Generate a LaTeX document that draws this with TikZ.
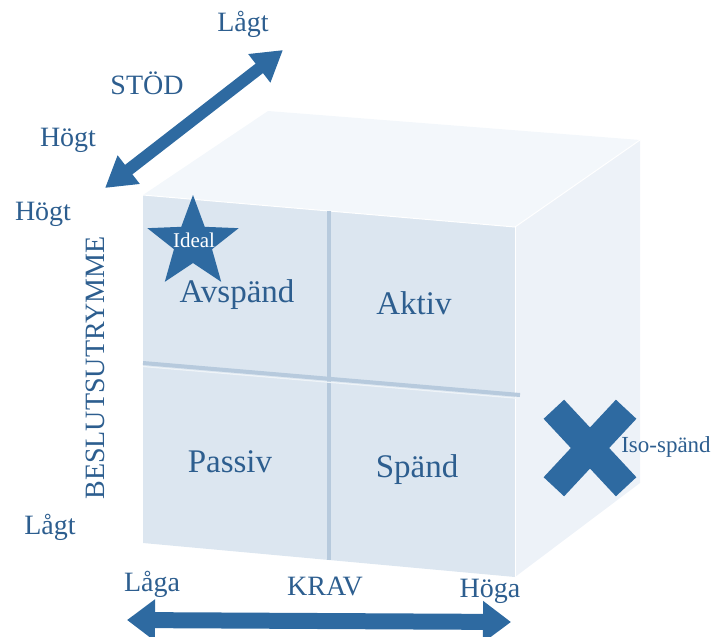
\documentclass[tikz,border=0pt]{standalone}
\usepackage{fontspec}
\setmainfont{Liberation Serif}
\usetikzlibrary{arrows.meta}
\definecolor{txt}{HTML}{2D5E8F}
\definecolor{markc}{HTML}{2E6AA1}
\definecolor{frontc}{HTML}{DCE6F0}
\definecolor{topc}{HTML}{F3F7FB}
\definecolor{rightc}{HTML}{EDF2F8}
\definecolor{divc}{HTML}{B7CADD}
\tikzset{
  lbl/.style={text=txt, inner sep=0pt, font=\fontsize{28}{30}\selectfont},
  cell/.style={text=txt, inner sep=0pt, font=\fontsize{33}{36}\selectfont},
  bigarrow/.style={draw=markc, line width=12pt,
    {Triangle[length=30pt,width=34pt]}-{Triangle[length=30pt,width=34pt]}},
}
\begin{document}
\begin{tikzpicture}[x=1pt,y=-1pt]
\useasboundingbox (0,0) rectangle (712,637);
% cube faces
\coordinate (FTL) at (143,195);
\coordinate (FTR) at (515,227);
\coordinate (FBR) at (515,577);
\coordinate (FBL) at (143,543);
\coordinate (BTL) at (268,111);
\coordinate (BTR) at (640,140);
\coordinate (BBR) at (640,483);
\fill[topc] (FTL) -- (BTL) -- (BTR) -- (FTR) -- cycle;
\fill[rightc] (FTR) -- (BTR) -- (BBR) -- (FBR) -- cycle;
\fill[frontc] (FTL) -- (FTR) -- (FBR) -- (FBL) -- cycle;
\draw[white, line width=1pt] (FTL) -- (FTR) -- (BTR);
\draw[white, line width=1pt] (FTR) -- (FBR);
% dividers
\coordinate (VT) at (329,211);
\coordinate (VB) at (329,560);
\coordinate (HL) at (143,363);
\coordinate (HR) at (520,395);
\draw[divc, line width=4pt] (VT) -- (VB);
\draw[divc, line width=4pt] (HL) -- (HR);
\draw[white!55!frontc, line width=1.2pt] ([yshift=-3.5]HL) -- ([yshift=-3.5]HR);
% cell labels
\node[cell] (avs) at (237,295) {Avspänd};
\node[cell] (akt) at (414,303) {Aktiv};
\node[cell] (pas) at (230,462) {Passiv};
\node[cell] (spa) at (417,470) {Spänd};
% star
\fill[markc] ({193+48*cos(90)},{243-48*sin(90)})
  \foreach \k in {0,...,4} {
    -- ({193+20*cos(90+36+72*\k)},{243-20*sin(90+36+72*\k)})
    -- ({193+48*cos(90+72+72*\k)},{243-48*sin(90+72+72*\k)})
  } -- cycle;
\node[text=white, inner sep=0pt, font=\fontsize{21}{23}\selectfont] (ideal) at (194,240) {Ideal};
% X mark
\fill[markc, rotate around={47:(590,448)}] (537,434) rectangle (643,462);
\fill[markc, rotate around={-47:(590,448)}] (537,434) rectangle (643,462);
\node[text=txt, inner sep=0pt, font=\fontsize{23}{25}\selectfont] (iso) at (666,447) {Iso-spänd};
% axis labels
\node[lbl] (lagt1) at (243,24) {Lågt};
\node[lbl] (stod) at (147,83) {STÖD};
\node[lbl] (hogt1) at (68,140) {Högt};
\node[lbl] (hogt2) at (43,214) {Högt};
\node[lbl, rotate=90] (besl) at (95,368) {BESLUTSUTRYMME};
\node[lbl] (lagt2) at (50,527) {Lågt};
\node[lbl] (laga) at (152,584) {Låga};
\node[lbl] (krav) at (325,586) {KRAV};
\node[lbl] (hoga) at (490,591) {Höga};
% arrows
\coordinate (sA) at (105,188);
\coordinate (sB) at (283,50);
\draw[bigarrow] (sA) -- (sB);
\coordinate (kA) at (127,620);
\coordinate (kB) at (511,622);
\draw[bigarrow, line width=16pt, {Triangle[length=28pt,width=40pt]}-{Triangle[length=28pt,width=40pt]}] (kA) -- (kB);
\end{tikzpicture}
\end{document}
